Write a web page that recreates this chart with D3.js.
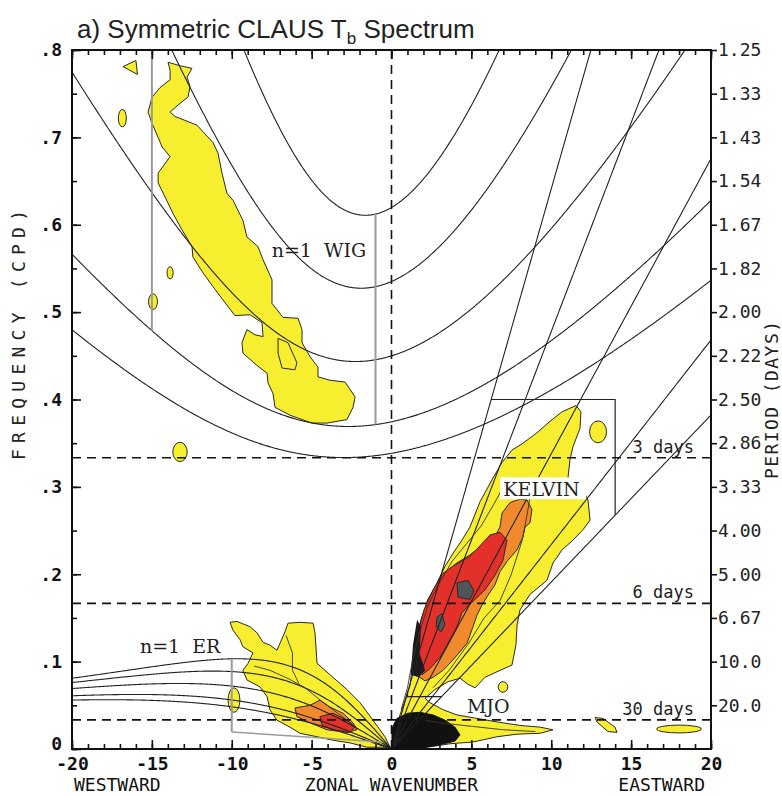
<!DOCTYPE html>
<html>
<head>
<meta charset="utf-8">
<script src="https://cdn.jsdelivr.net/npm/d3@7"></script>
<style>
body { margin: 0; background: #fff; }
</style>
</head>
<body>
<div id="showChart"></div>
<script>
// equivalent depths (m) of the shallow water dispersion curves
var depths = [8, 12, 25, 50, 90];

// axis ticks and labels
var xLabels = [-20, -15, -10, -5, 0, 5, 10, 15, 20];
var freqTicks = [0.8, 0.7, 0.6, 0.5, 0.4, 0.3, 0.2, 0.1, 0];
var freqLabels = [".8", ".7", ".6", ".5", ".4", ".3", ".2", ".1", "0"];
var periodTicks = [0.8, 0.75, 0.7, 0.65, 0.6, 0.55, 0.5, 0.45, 0.4, 0.35, 0.3, 0.25, 0.2, 0.15, 0.1, 0.05];
var periodLabels = ["1.25", "1.33", "1.43", "1.54", "1.67", "1.82", "2.00", "2.22", "2.50", "2.86", "3.33", "4.00", "5.00", "6.67", "10.0", "20.0"];
var periodLines = [3, 6, 30]; // days

// filter boxes (wavenumber, cpd, depth)
var kelvinBox = { kMin: 1, kMax: 14, fMin: 0.06, fMax: 0.4, hMin: 8, hMax: 90 };
var wigBox = { k: [-15, -1], hMin: 12, hMax: 90 };
var erBox = { k: -10, hMax: 90, fLow: [[-10, 0.0195], [-0.6, 0.008]] };

// contour shapes: [zonal wavenumber, frequency cpd]
var wigYellow = [[-13.99,0.786],[-13.24,0.782],[-12.49,0.779],[-12.80,0.769],[-12.61,0.758],[-12.74,0.746],[-13.24,0.739],[-13.86,0.729],[-13.55,0.724],[-12.18,0.714],[-11.17,0.694],[-10.86,0.682],[-10.61,0.659],[-10.30,0.636],[-9.92,0.628],[-9.30,0.605],[-9.05,0.586],[-8.36,0.575],[-8.04,0.560],[-7.48,0.537],[-7.48,0.510],[-6.79,0.494],[-5.85,0.493],[-5.60,0.480],[-5.60,0.465],[-5.10,0.449],[-4.60,0.437],[-4.60,0.426],[-3.85,0.422],[-2.91,0.420],[-2.28,0.403],[-2.41,0.391],[-2.79,0.377],[-4.04,0.373],[-4.98,0.373],[-6.35,0.382],[-7.29,0.391],[-7.42,0.407],[-7.73,0.419],[-7.79,0.430],[-8.42,0.439],[-9.30,0.453],[-9.36,0.465],[-9.05,0.480],[-8.54,0.474],[-8.04,0.472],[-8.11,0.488],[-8.86,0.497],[-9.80,0.496],[-10.55,0.514],[-11.17,0.529],[-11.80,0.545],[-12.43,0.563],[-12.49,0.575],[-13.11,0.594],[-13.68,0.613],[-14.18,0.632],[-14.61,0.648],[-14.61,0.659],[-13.86,0.678],[-14.36,0.689],[-14.61,0.700],[-14.99,0.716],[-15.24,0.729],[-14.99,0.746],[-14.49,0.757],[-13.86,0.766],[-13.86,0.777]];
var wigInner = [[-7.10,0.470],[-6.48,0.465],[-5.92,0.442],[-6.04,0.434],[-6.85,0.436],[-7.10,0.453]];
var wigTri = [[-16.81,0.781],[-16.0,0.788],[-15.9,0.772]];

var kelvinYellow = [[0.09,0.001],[0.28,0.022],[0.53,0.039],[0.85,0.056],[1.16,0.073],[1.35,0.102],[1.53,0.119],[1.78,0.142],[2.28,0.171],[2.79,0.188],[3.35,0.209],[3.85,0.224],[4.41,0.239],[4.91,0.254],[5.54,0.283],[6.35,0.310],[6.92,0.328],[7.54,0.342],[8.23,0.350],[9.11,0.362],[9.92,0.375],[10.68,0.386],[11.17,0.390],[11.55,0.393],[11.86,0.386],[11.80,0.367],[11.36,0.346],[11.17,0.331],[11.05,0.311],[11.99,0.296],[12.30,0.285],[12.43,0.262],[11.99,0.251],[11.36,0.239],[10.68,0.228],[10.11,0.213],[9.73,0.193],[8.67,0.177],[8.04,0.159],[7.86,0.142],[7.79,0.119],[7.54,0.096],[6.79,0.090],[5.85,0.082],[5.23,0.070],[4.79,0.074],[4.29,0.081],[3.54,0.077],[2.72,0.068],[2.10,0.058],[2.41,0.053],[3.22,0.045],[4.10,0.039],[5.35,0.035],[6.60,0.031],[8.04,0.027],[9.30,0.025],[10.11,0.022],[9.30,0.018],[7.86,0.017],[6.60,0.014],[5.10,0.008],[3.66,0.006],[2.22,0.002]];
var kelvinOrange = [[7.42,0.282],[8.04,0.286],[8.48,0.285],[8.79,0.274],[8.67,0.259],[8.36,0.254],[8.23,0.243],[7.86,0.228],[7.29,0.216],[6.79,0.203],[6.48,0.188],[6.04,0.176],[5.67,0.165],[5.35,0.153],[5.10,0.140],[4.73,0.121],[3.85,0.102],[3.22,0.090],[2.60,0.082],[2.10,0.078],[1.60,0.084],[1.41,0.102],[1.53,0.125],[1.85,0.148],[2.28,0.171],[2.85,0.188],[3.47,0.203],[4.10,0.213],[4.91,0.222],[5.54,0.231],[6.35,0.239],[6.79,0.254],[6.92,0.270]];
var kelvinRed = [[6.17,0.245],[6.79,0.248],[7.23,0.239],[6.98,0.216],[6.48,0.199],[5.85,0.182],[5.04,0.168],[4.41,0.156],[4.10,0.140],[3.66,0.125],[3.04,0.105],[2.41,0.092],[1.91,0.085],[1.53,0.093],[1.53,0.113],[1.66,0.134],[2.03,0.159],[2.60,0.182],[3.22,0.201],[3.97,0.211],[4.79,0.219],[5.41,0.230]];
var kelvinGrayA = [[4.10,0.190],[4.79,0.193],[5.16,0.181],[4.91,0.171],[4.16,0.174]];
var kelvinGrayB = [[2.85,0.151],[3.16,0.155],[3.35,0.142],[3.10,0.134],[2.79,0.140]];
var kelvinDark = [[1.2,0.085],[1.35,0.12],[1.6,0.148],[1.85,0.14],[1.75,0.11],[2.1,0.09],[1.7,0.082]];
var originBlack = [[0.03,0.0],[0.03,0.024],[0.34,0.035],[1.03,0.041],[1.78,0.042],[2.60,0.039],[3.35,0.033],[3.97,0.025],[4.29,0.016],[3.97,0.009],[3.04,0.005],[1.78,0.001]];

var erYellow = [[-10.11,0.145],[-9.67,0.146],[-8.86,0.140],[-8.42,0.133],[-8.04,0.122],[-7.61,0.119],[-7.17,0.113],[-6.67,0.134],[-6.48,0.144],[-5.73,0.145],[-4.91,0.144],[-4.79,0.133],[-4.66,0.098],[-3.66,0.082],[-2.79,0.068],[-1.97,0.053],[-1.16,0.033],[-0.41,0.014],[-0.09,0.002],[-1.53,0.002],[-2.60,0.007],[-3.66,0.010],[-4.66,0.014],[-5.73,0.018],[-6.35,0.025],[-7.17,0.033],[-7.61,0.045],[-7.79,0.060],[-8.23,0.071],[-9.05,0.079],[-9.30,0.090],[-8.98,0.098],[-8.67,0.110],[-9.30,0.117],[-9.48,0.125],[-9.92,0.136]];
var erOrange = [[-6.04,0.047],[-5.10,0.050],[-4.48,0.056],[-3.85,0.048],[-3.04,0.041],[-2.41,0.030],[-2.16,0.022],[-2.79,0.019],[-4.04,0.022],[-5.10,0.030],[-5.92,0.037]];
var erRed = [[-4.48,0.037],[-3.66,0.041],[-2.79,0.033],[-2.28,0.025],[-2.60,0.019],[-3.66,0.022],[-4.35,0.027]];

// small yellow spots: [k, cpd, half width in k, half height in cpd]
var yellowSpots = [[-16.85,0.722,0.25,0.010],[-13.86,0.545,0.19,0.007],[-14.93,0.512,0.28,0.009],[-13.24,0.340,0.45,0.011],[12.93,0.363,0.53,0.0125],[6.98,0.071,0.30,0.006],[18.0,0.0229,1.4,0.0045],[-9.86,0.056,0.37,0.014]];
var spotTilted = [[12.74,0.036],[13.24,0.035],[13.99,0.025],[14.12,0.019],[13.55,0.020],[12.86,0.031]];

// a few inner contour lines
var innerLines = [
  [[0.6,0.045],[1.0,0.07],[1.3,0.1],[1.7,0.13],[2.3,0.165],[3.0,0.19],[3.8,0.215],[4.7,0.235],[5.6,0.255],[6.4,0.28],[7.0,0.3]],
  [[2.6,0.07],[3.6,0.09],[4.8,0.12],[5.8,0.15],[6.8,0.17],[7.5,0.2],[8.2,0.24],[8.6,0.28],[8.8,0.31]],
  [[1.5,0.035],[3,0.03],[5,0.026],[7,0.022],[9,0.02]],
  [[-8.6,0.095],[-7.6,0.09],[-6.4,0.08],[-5.4,0.07],[-4.4,0.055],[-3.3,0.04],[-2.2,0.025]],
  [[-6.6,0.13],[-6.2,0.11],[-6.2,0.09],[-5.8,0.075]]
];

// physical constants
var grav = 9.8, beta = 2.28e-11, re = 6.371e6;
var toCpd = 86400 / (2 * Math.PI);

function kelvinFreq(s, h) {
  var c = Math.sqrt(grav * h);
  return c * s / re * toCpd;
}
function erFreq(s, h) {
  var c = Math.sqrt(grav * h), k = s / re;
  return -beta * k / (k * k + 3 * beta / c) * toCpd;
}
// n=1 inertio-gravity, largest root of w^3 - (c2k2+3bc)w - bkc2 = 0
function igFreq(s, h) {
  var c = Math.sqrt(grav * h), k = s / re;
  var A = c * c * k * k + 3 * beta * c;
  var q = -beta * k * c * c;
  var arg = (3 * q / (-2 * A)) * Math.sqrt(3 / A);
  arg = Math.max(-1, Math.min(1, arg));
  return 2 * Math.sqrt(A / 3) * Math.cos(Math.acos(arg) / 3) * toCpd;
}

var W = 782, H = 796;
var L = 72, R = 711, T = 50, B = 749;

var x = d3.scaleLinear().domain([-20, 20]).range([L, R]);
var y = d3.scaleLinear().domain([0, 0.8]).range([B, T]);

var svg = d3.select("#showChart").append("svg")
  .attr("width", W).attr("height", H)
  .style("font-family", "DejaVu Sans Mono");

svg.append("clipPath").attr("id", "plotClip")
  .append("rect").attr("x", L).attr("y", T).attr("width", R - L).attr("height", B - T);

var plot = svg.append("g").attr("clip-path", "url(#plotClip)");

var area = d3.line().x(function(d) { return x(d[0]); }).y(function(d) { return y(d[1]); }).curve(d3.curveLinearClosed);
var line = d3.line().x(function(d) { return x(d[0]); }).y(function(d) { return y(d[1]); });

// filled contours
function blob(pts, fill) {
  plot.append("path").attr("d", area(pts))
    .attr("fill", fill).attr("stroke", "#2b2a1a").attr("stroke-width", 1);
}
var cYellow = "#f6ee2e", cOrange = "#f08a2c", cRed = "#e4302a", cGray = "#4e5658";

blob(wigYellow, cYellow);
blob(wigTri, cYellow);
blob(erYellow, cYellow);
blob(erOrange, cOrange);
blob(erRed, cRed);
blob(kelvinYellow, cYellow);
blob(kelvinOrange, cOrange);
blob(kelvinRed, cRed);
blob(kelvinGrayA, cGray);
blob(kelvinGrayB, cGray);
blob(spotTilted, cYellow);

plot.selectAll(".spot").data(yellowSpots).enter().append("ellipse")
  .attr("class", "spot")
  .attr("cx", function(d) { return x(d[0]); })
  .attr("cy", function(d) { return y(d[1]); })
  .attr("rx", function(d) { return x(d[2]) - x(0); })
  .attr("ry", function(d) { return y(0) - y(d[3]); })
  .attr("fill", cYellow).attr("stroke", "#2b2a1a").attr("stroke-width", 1);

plot.append("path").attr("d", area(kelvinDark)).attr("fill", "#1a1a1a");
plot.append("path").attr("d", area(originBlack)).attr("fill", "#111").attr("stroke", "#111");
plot.append("path").attr("d", area(wigInner)).attr("fill", "none").attr("stroke", "#2b2a1a");

innerLines.forEach(function(l) {
  plot.append("path").attr("d", line(l)).attr("fill", "none")
    .attr("stroke", "#3a3320").attr("stroke-width", 0.9);
});

// dispersion curves
var sPos = d3.range(0, 20.001, 0.1);
var sNeg = d3.range(-20, 0.0001, 0.05);
var sAll = d3.range(-20, 20.001, 0.05);

depths.forEach(function(h) {
  plot.append("path").attr("d", line(sPos.map(function(s) { return [s, kelvinFreq(s, h)]; })))
    .attr("fill", "none").attr("stroke", "#222").attr("stroke-width", 1.1);
  plot.append("path").attr("d", line(sNeg.map(function(s) { return [s, erFreq(s, h)]; })))
    .attr("fill", "none").attr("stroke", "#222").attr("stroke-width", 1.1);
  plot.append("path").attr("d", line(sAll.map(function(s) { return [s, igFreq(s, h)]; })))
    .attr("fill", "none").attr("stroke", "#222").attr("stroke-width", 1.1);
});

// filter boxes
var gray = "#9a9a9a";
wigBox.k.forEach(function(k) {
  plot.append("line")
    .attr("x1", x(k)).attr("x2", x(k))
    .attr("y1", y(igFreq(k, wigBox.hMax))).attr("y2", y(igFreq(k, wigBox.hMin)))
    .attr("stroke", gray).attr("stroke-width", 2);
});
plot.append("line")
  .attr("x1", x(erBox.k)).attr("x2", x(erBox.k))
  .attr("y1", y(erFreq(erBox.k, erBox.hMax))).attr("y2", y(erBox.fLow[0][1]))
  .attr("stroke", gray).attr("stroke-width", 2);
plot.append("path").attr("d", line(erBox.fLow))
  .attr("fill", "none").attr("stroke", gray).attr("stroke-width", 1.5);

var kb = kelvinBox;
var kbPts = [
  [kb.fMax / kelvinFreq(1, kb.hMax), kb.fMax],
  [kb.kMax, kb.fMax],
  [kb.kMax, kelvinFreq(kb.kMax, kb.hMin)]
];
plot.append("path").attr("d", line(kbPts)).attr("fill", "none").attr("stroke", "#222").attr("stroke-width", 1.2);
plot.append("path").attr("d", line([[kb.kMin, kelvinFreq(kb.kMin, kb.hMax)], [kb.kMin, kb.fMin], [kb.fMin / kelvinFreq(1, kb.hMin), kb.fMin]]))
  .attr("fill", "none").attr("stroke", "#222").attr("stroke-width", 1.2);

// period lines and zero line
periodLines.forEach(function(p) {
  plot.append("line").attr("x1", L).attr("x2", R)
    .attr("y1", y(1 / p)).attr("y2", y(1 / p))
    .attr("stroke", "#111").attr("stroke-width", 1.6).attr("stroke-dasharray", "9,6");
});
plot.append("line").attr("x1", x(0)).attr("x2", x(0)).attr("y1", T).attr("y2", B)
  .attr("stroke", "#111").attr("stroke-width", 1.6).attr("stroke-dasharray", "9,6");

// labels inside the plot
var serif = "DejaVu Serif";
svg.append("rect").attr("x", x(6.8)).attr("y", y(0.311)).attr("width", 86).attr("height", 22).attr("fill", "#fff");
svg.append("text").attr("x", x(7.0)).attr("y", y(0.290)).text("KELVIN")
  .attr("font-family", serif).attr("font-size", 19).attr("fill", "#222");
svg.append("text").attr("x", x(-7.5)).attr("y", y(0.563)).attr("xml:space", "preserve").text("n=1  WIG")
  .attr("font-family", serif).attr("font-size", 19).attr("fill", "#222");
svg.append("text").attr("x", x(-15.75)).attr("y", y(0.110)).attr("xml:space", "preserve").text("n=1  ER")
  .attr("font-family", serif).attr("font-size", 19).attr("fill", "#222");
svg.append("text").attr("x", x(4.72)).attr("y", y(0.041)).text("MJO")
  .attr("font-family", serif).attr("font-size", 19).attr("fill", "#222");

var dayText = ["3 days", "6 days", "30 days"];
periodLines.forEach(function(p, i) {
  svg.append("text").attr("x", R - 17).attr("y", y(1 / p) - 5)
    .attr("text-anchor", "end").text(dayText[i])
    .attr("font-size", 17).attr("fill", "#222");
});

// frame
svg.append("rect").attr("x", L).attr("y", T).attr("width", R - L).attr("height", B - T)
  .attr("fill", "none").attr("stroke", "#111").attr("stroke-width", 2);

// axes
function styleAxis(g) {
  g.select(".domain").remove();
  g.selectAll("line").attr("stroke", "#111").attr("stroke-width", 1.6);
}
var minorX = d3.range(-20, 21, 1);
var minorY = d3.range(0, 0.801, 0.05);

svg.append("g").attr("transform", "translate(0," + B + ")")
  .call(d3.axisBottom(x).tickValues(minorX).tickSize(-5).tickFormat("")).call(styleAxis);
svg.append("g").attr("transform", "translate(0," + B + ")")
  .call(d3.axisBottom(x).tickValues(xLabels).tickSize(-9).tickPadding(8).tickFormat(function(d) { return String(d); }))
  .call(styleAxis)
  .selectAll("text").attr("font-family", "DejaVu Sans Mono").attr("font-weight", "bold").attr("font-size", 18).attr("fill", "#111");
svg.append("g").attr("transform", "translate(0," + T + ")")
  .call(d3.axisTop(x).tickValues(minorX).tickSize(-5).tickFormat("")).call(styleAxis);
svg.append("g").attr("transform", "translate(0," + T + ")")
  .call(d3.axisTop(x).tickValues(xLabels).tickSize(-9).tickFormat("")).call(styleAxis);

svg.append("g").attr("transform", "translate(" + L + ",0)")
  .call(d3.axisLeft(y).tickValues(minorY).tickSize(-5).tickFormat("")).call(styleAxis);
var leftAx = svg.append("g").attr("transform", "translate(" + L + ",0)")
  .call(d3.axisLeft(y).tickValues(freqTicks).tickSize(-9).tickPadding(10).tickFormat(function(d, i) { return freqLabels[i]; }))
  .call(styleAxis);
leftAx.selectAll("text").attr("font-family", "DejaVu Sans Mono").attr("font-weight", "bold").attr("font-size", 18).attr("fill", "#111");
// the "0" label sits a bit above the corner
leftAx.selectAll("text").filter(function(d) { return d === 0; }).attr("dy", "0.05em");

svg.append("g").attr("transform", "translate(" + R + ",0)")
  .call(d3.axisRight(y).tickValues(periodTicks).tickSize(6).tickPadding(1).tickFormat(function(d, i) { return periodLabels[i]; }))
  .call(styleAxis)
  .selectAll("text").attr("font-family", "DejaVu Sans Mono").attr("font-size", 18).attr("fill", "#222");

// axis titles
svg.append("text").attr("x", 74).attr("y", 791).text("WESTWARD").attr("font-size", 18).attr("fill", "#111");
svg.append("text").attr("x", x(0)).attr("y", 791).attr("text-anchor", "middle").text("ZONAL WAVENUMBER").attr("font-size", 18).attr("fill", "#111");
svg.append("text").attr("x", 705).attr("y", 791).attr("text-anchor", "end").text("EASTWARD").attr("font-size", 18).attr("fill", "#111");

svg.append("text").attr("transform", "translate(25,335) rotate(-90)").attr("text-anchor", "middle")
  .attr("textLength", 250).attr("lengthAdjust", "spacing")
  .text("FREQUENCY (CPD)").attr("font-size", 18).attr("fill", "#222");
svg.append("text").attr("transform", "translate(778,400) rotate(-90)").attr("text-anchor", "middle")
  .attr("textLength", 158).attr("lengthAdjust", "spacing")
  .text("PERIOD (DAYS)").attr("font-size", 18).attr("fill", "#222");

// title
var title = svg.append("text").attr("x", 77).attr("y", 38)
  .attr("font-family", "Liberation Sans").attr("font-size", 26).attr("fill", "#222");
title.append("tspan").text("a) Symmetric CLAUS T");
title.append("tspan").attr("font-size", 17).attr("dy", 6).text("b");
title.append("tspan").attr("dy", -6).text(" Spectrum");
</script>
</body>
</html>
